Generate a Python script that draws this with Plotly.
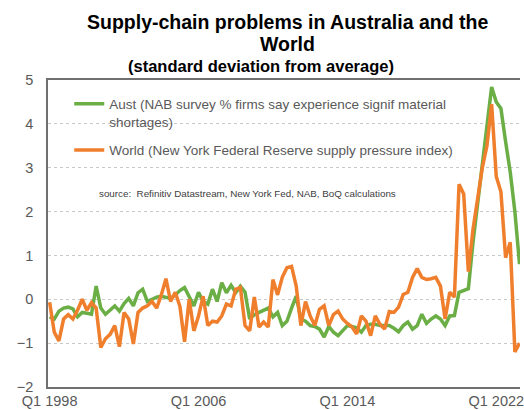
import plotly.graph_objects as go

# quarterly categories, Q1 1998 onwards
quarters = [f"Q{q} {y}" for y in range(1998, 2024) for q in range(1, 5)][:102]

aust = [
    -0.40, -0.45, -0.27, -0.20, -0.18, -0.22, -0.40, -0.30, -0.32, -0.34,
    0.30, -0.20, -0.34, -0.25, -0.15, -0.27, -0.10, 0.02, -0.15, 0.15,
    0.23, -0.05, 0.00, 0.05, 0.07, 0.05, 0.02, 0.10, 0.20, 0.27,
    0.05, -0.15, 0.16, -0.05, -0.11, 0.23, -0.05, 0.38, 0.15, 0.32,
    0.15, 0.30, 0.16, -0.45, -0.35, -0.30, -0.27, -0.20, -0.40, -0.30,
    -0.60, -0.50, -0.20, 0.07, -0.45, -0.50, -0.60, -0.62, -0.68, -0.86,
    -0.62, -0.75, -0.83, -0.72, -0.60, -0.62, -0.65, -0.75, -0.60, -0.57,
    -0.57, -0.60, -0.60, -0.60, -0.66, -0.74, -0.60, -0.52, -0.68, -0.60,
    -0.34, -0.55, -0.45, -0.38, -0.45, -0.60, -0.38, -0.37, 0.16, 0.19,
    0.24, 1.30, 2.20, 3.00, 3.90, 4.84, 4.50, 4.35, 3.60, 2.90,
    2.00, 0.80,
]

world = [
    -0.07, -0.75, -0.95, -0.45, -0.35, -0.45, -0.25, 0.00, -0.25, -0.08,
    -0.20, -1.10, -0.90, -0.80, -0.60, -1.08, -0.30, -0.45, -1.02, -0.30,
    -0.20, -0.15, -0.05, -0.20, 0.10, 0.47, -0.05, 0.16, -0.16, -0.97,
    0.00, -0.72, -0.38, 0.07, -0.60, -0.50, -0.52, -0.38, -0.11, -0.15,
    0.23, 0.27, -0.60, -0.72, 0.05, -0.63, -0.52, -0.63, 0.45, 0.10,
    0.50, 0.72, 0.75, 0.30, -0.60, -0.05, -0.38, -0.60, -0.23, -0.15,
    -0.60, -0.35, -0.27, -0.45, -0.55, -0.63, -0.79, -0.38, -0.50, -0.83,
    -0.38, -0.57, -0.68, -0.28, -0.30, -0.18, 0.11, 0.16, 0.50, 0.70,
    0.50, 0.45, 0.47, 0.50, 0.30, -0.45, 0.16, 0.05, 2.62, 2.40,
    0.63, 1.60, 2.30, 3.00, 3.50, 4.45, 2.80, 2.45, 0.95, 1.30,
    -1.20, -1.00,
]

tick_labels = ["Q1 1998", "Q1 2006", "Q1 2014", "Q1 2022"]

font = "Liberation Sans, Arial, sans-serif"
grey = "#595959"

fig = go.Figure()
fig.add_trace(go.Scatter(
    x=quarters, y=aust, mode="lines", legendgroup="a",
    name="Aust (NAB survey % firms say experience signif material<br>shortages)",
    line=dict(color="#6aae45", width=3.5)))
fig.add_trace(go.Scatter(
    x=quarters, y=world, mode="lines", legendgroup="b",
    name="World (New York Federal Reserve supply pressure index)",
    line=dict(color="#f07f2d", width=3.5)))

fig.update_layout(
    width=524, height=410, autosize=False,
    margin=dict(l=48, r=0, t=80, b=23),
    plot_bgcolor="white", paper_bgcolor="white",
    font=dict(family=font, color=grey),
    showlegend=True,
    legend=dict(x=0.045, y=0.972, xanchor="left", yanchor="top",
                bgcolor="rgba(0,0,0,0)", valign="top",
                tracegroupgap=8, traceorder="grouped",
                font=dict(size=13.5, color=grey)),
)

fig.update_xaxes(
    type="category", range=[-0.35, 101.1],
    tickvals=tick_labels, ticktext=tick_labels,
    showgrid=False, showline=True, mirror=True,
    linecolor="#707070", linewidth=1.5,
    ticks="", tickfont=dict(size=14.5, color=grey),
)
fig.update_yaxes(
    range=[-2, 5], dtick=1, showline=True, linecolor="#707070", linewidth=1.5,
    gridcolor="#c8c8c8", griddash="dot", gridwidth=1, zeroline=False,
    ticks="", ticklabelstandoff=10, tickfont=dict(size=14.5, color=grey),
)

fig.add_annotation(
    text="<b>Supply-chain problems in Australia and the</b>",
    xref="paper", yref="paper", x=0.508, y=1.189, xanchor="center", yanchor="middle",
    showarrow=False, font=dict(size=19.5, color="black"))
fig.add_annotation(
    text="<b>World</b>",
    xref="paper", yref="paper", x=0.508, y=1.117, xanchor="center", yanchor="middle",
    showarrow=False, font=dict(size=19.5, color="black"))
fig.add_annotation(
    text="<b>(standard deviation from average)</b>",
    xref="paper", yref="paper", x=0.452, y=1.046, xanchor="center", yanchor="middle",
    showarrow=False, font=dict(size=16.5, color="black"))
fig.add_annotation(
    text="source:&nbsp; Refinitiv Datastream, New York Fed, NAB, BoQ calculations",
    xref="paper", yref="paper", x=0.103, y=0.631, xanchor="left", yanchor="middle",
    showarrow=False, font=dict(size=9.8, color="#404040"))

# drop the default body margin so the figure fills the window
fig.write_html("out.html", config={"displayModeBar": False},
               post_script="document.body.style.margin='0';")
